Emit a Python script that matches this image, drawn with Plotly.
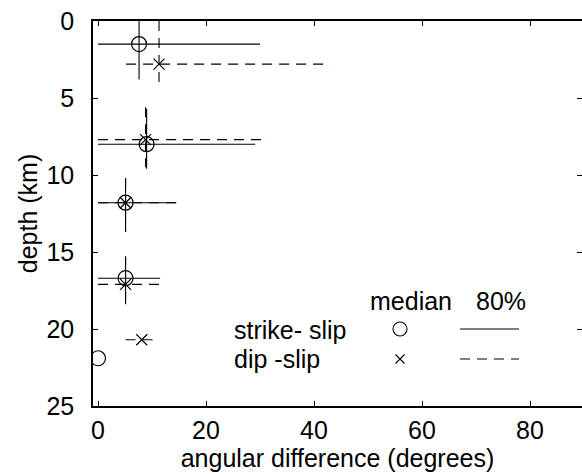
import plotly.graph_objects as go

# Median angular difference and 80% ranges by depth bin
ss_depth = [1.5, 8.0, 11.8, 16.7, 21.9]
ss_median = [7.6, 9.0, 5.1, 5.1, 0.0]
ss_x_lo = [0.0, 0.0, 0.0, 0.0, None]
ss_x_hi = [30.0, 29.1, 14.5, 11.5, None]
ss_d_lo = [0.0, 5.7, 10.2, 15.3, None]
ss_d_hi = [3.8, 9.6, 13.7, 18.4, None]

ds_depth = [2.8, 7.7, 11.8, 17.1, 20.7]
ds_median = [11.3, 8.8, 5.1, 5.1, 8.1]
ds_x_lo = [5.2, 0.0, 0.0, 0.0, 5.1]
ds_x_hi = [43.0, 31.5, 14.7, 11.3, 10.3]
ds_d_lo = [0.0, 5.6, 10.2, 15.3, None]
ds_d_hi = [4.3, 9.5, 13.7, 18.4, None]

x_ticks = [0, 20, 40, 60, 80]
y_ticks = [0, 5, 10, 15, 20, 25]

FONT = "Liberation Sans, Arial, Helvetica, sans-serif"
FS = 25
W, H = 582, 474
ML, MR, MT, MB = 93, 0, 21, 68
X_RANGE = [-0.93, 89.63]
Y_RANGE = [25, 0]


def range_segments(centers, lo, hi, horizontal):
    xs, ys = [], []
    for c, a, b in zip(centers, lo, hi):
        if a is None or b is None:
            continue
        if horizontal:
            xs += [a, b, None]
            ys += [c, c, None]
        else:
            xs += [c, c, None]
            ys += [a, b, None]
    return xs, ys


fig = go.Figure()

line_solid = dict(color="black", width=1.1)
line_dash = dict(color="black", width=1.1, dash="10px,7px")

for med, dep, xlo, xhi, dlo, dhi, ln in [
    (ss_median, ss_depth, ss_x_lo, ss_x_hi, ss_d_lo, ss_d_hi, line_solid),
    (ds_median, ds_depth, ds_x_lo, ds_x_hi, ds_d_lo, ds_d_hi, line_dash),
]:
    hx, hy = range_segments(dep, xlo, xhi, True)
    fig.add_trace(go.Scatter(x=hx, y=hy, mode="lines", line=ln, showlegend=False, hoverinfo="skip"))
    vx, vy = range_segments(med, dlo, dhi, False)
    fig.add_trace(go.Scatter(x=vx, y=vy, mode="lines", line=ln, showlegend=False, hoverinfo="skip"))

fig.add_trace(go.Scatter(
    x=ss_median, y=ss_depth, mode="markers", showlegend=False,
    marker=dict(symbol="circle-open", size=15, color="black", line=dict(width=1.2, color="black")),
))
fig.add_trace(go.Scatter(
    x=ds_median, y=ds_depth, mode="markers", showlegend=False,
    marker=dict(symbol="x-thin-open", size=11, color="black", line=dict(width=1.2, color="black")),
))


# Hand-built key in the lower right of the axes
def px_to_paper(px, py):
    return (px - ML) / (W - ML - MR), 1 - (py - MT) / (H - MT - MB)


def px_to_data(px, py):
    fx, fy = px_to_paper(px, py)
    return (X_RANGE[0] + fx * (X_RANGE[1] - X_RANGE[0]),
            Y_RANGE[0] + fy * (Y_RANGE[1] - Y_RANGE[0]))


key_font = dict(family=FONT, size=FS, color="black")
for text, px, py in [("median", 368, 301), ("80%", 474, 301),
                     ("strike- slip", 232, 330), ("dip -slip", 232, 359)]:
    ax_, ay_ = px_to_paper(px, py)
    fig.add_annotation(text=text, x=ax_, y=ay_, xref="paper", yref="paper",
                       xanchor="left", yanchor="middle", showarrow=False, font=key_font)

cx, cy = px_to_data(400, 329)
fig.add_trace(go.Scatter(x=[cx], y=[cy], mode="markers", showlegend=False, hoverinfo="skip",
                         marker=dict(symbol="circle-open", size=14, color="black",
                                     line=dict(width=1.1, color="black"))))
xx, xy = px_to_data(400, 359)
fig.add_trace(go.Scatter(x=[xx], y=[xy], mode="markers", showlegend=False, hoverinfo="skip",
                         marker=dict(symbol="x-thin-open", size=9, color="black",
                                     line=dict(width=1.1, color="black"))))
for py, ln in [(329, line_solid), (359, line_dash)]:
    x0, y0 = px_to_paper(460, py)
    x1, _ = px_to_paper(519, py)
    fig.add_shape(type="line", xref="paper", yref="paper", x0=x0, x1=x1, y0=y0, y1=y0,
                  line=ln)

axis_common = dict(
    ticks="inside", ticklen=5, tickwidth=1.3, tickcolor="black",
    showgrid=False, zeroline=False,
    tickfont=dict(family=FONT, size=FS, color="black"),
)

fig.update_layout(
    width=W, height=H,
    margin=dict(l=ML, r=MR, t=MT, b=MB),
    paper_bgcolor="white", plot_bgcolor="white",
    font=dict(family=FONT, size=FS, color="black"),
    xaxis=dict(range=X_RANGE, tickvals=x_ticks, showline=True, linecolor="black", linewidth=1.6,
               ticklabelstandoff=1,
               title=dict(text="angular difference (degrees)", standoff=0,
                          font=dict(family=FONT, size=FS, color="black")),
               **axis_common),
    yaxis=dict(range=Y_RANGE, tickvals=y_ticks, showline=True, linecolor="black", linewidth=1.6,
               ticklabelstandoff=12,
               title=dict(text="depth (km)", standoff=2,
                          font=dict(family=FONT, size=FS, color="black")),
               **axis_common),
    xaxis2=dict(range=X_RANGE, tickvals=x_ticks, overlaying="x", side="top",
                showticklabels=False, showline=True, linecolor="black", linewidth=1.6,
                **axis_common),
    yaxis2=dict(range=Y_RANGE, tickvals=y_ticks, overlaying="y", side="right",
                showticklabels=False, showline=False, **axis_common),
)

# Invisible traces so the mirrored top/right axes are drawn
fig.add_trace(go.Scatter(x=[None], y=[None], xaxis="x2", yaxis="y2", showlegend=False))

fig.write_html("out.html")
